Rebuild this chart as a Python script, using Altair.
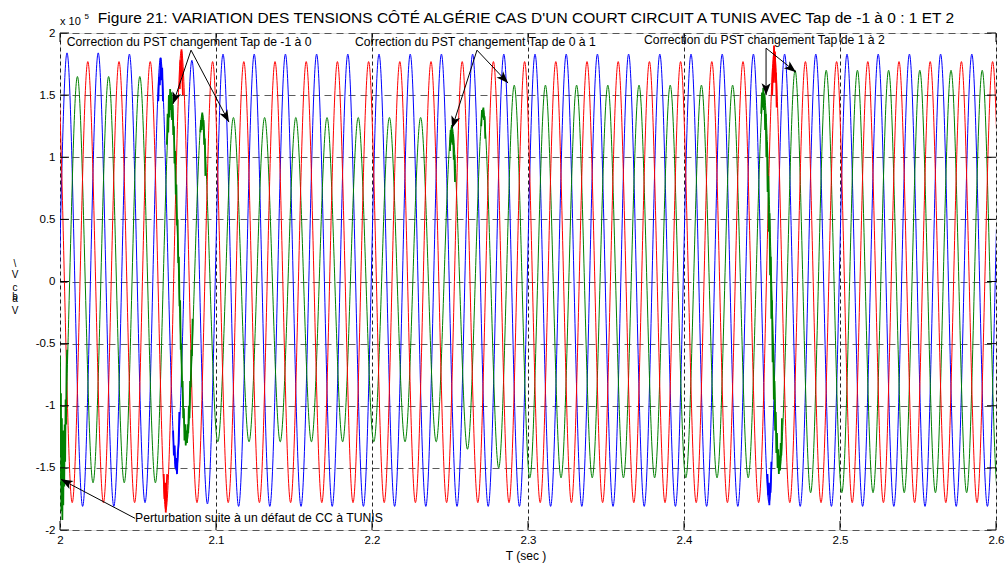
import math
import altair as alt
import pandas as pd

# ---------------- waveform data (time in s, voltage in units of 1e5 V) ----------------
PERIOD = 0.02                      # 50 Hz
BLUE_FIRST_PEAK = 1.9845
GREEN_FIRST_PEAK = 1.99117
RED_FIRST_PEAK = 1.99783

# positive / negative crest of every cycle, one entry per cycle
blue_pos = [1.83, 1.84, 1.84, 1.83, 1.80, 1.78, 1.83, 1.83, 1.83, 1.83,
            1.83, 1.83, 1.83, 1.83, 1.83, 1.83, 1.83, 1.83, 1.83, 1.83,
            1.83, 1.83, 1.83, 1.83, 1.83, 1.83, 1.83, 1.83, 1.83, 1.83,
            1.83, 1.83]
blue_neg = [-1.81, -1.81, -1.81, -1.78, -1.52, -1.79, -1.81, -1.81, -1.81, -1.81,
            -1.81, -1.81, -1.81, -1.81, -1.81, -1.81, -1.81, -1.81, -1.81, -1.81,
            -1.81, -1.81, -1.81, -1.78, -1.81, -1.81, -1.81, -1.81, -1.81, -1.81,
            -1.81, -1.81]
green_pos = [1.65, 1.65, 1.65, 1.65, 1.52, 1.35, 1.32, 1.32, 1.32, 1.32,
             1.32, 1.32, 1.32, 1.25, 1.39, 1.58, 1.58, 1.58, 1.58, 1.58,
             1.58, 1.58, 1.58, 1.52, 1.70, 1.70, 1.70, 1.70, 1.70, 1.70,
             1.70, 1.70]
green_neg = [-1.62, -1.62, -1.62, -1.62, -1.30, -1.29, -1.29, -1.29, -1.29, -1.29,
             -1.29, -1.29, -1.29, -1.35, -1.50, -1.58, -1.58, -1.58, -1.58, -1.58,
             -1.58, -1.58, -1.58, -1.52, -1.70, -1.70, -1.70, -1.70, -1.70, -1.70,
             -1.70, -1.70]
red_pos = [1.77, 1.77, 1.77, 1.77, 1.86, 1.77, 1.77, 1.77, 1.77, 1.77,
           1.77, 1.77, 1.77, 1.77, 1.77, 1.77, 1.77, 1.77, 1.77, 1.77,
           1.77, 1.77, 1.77, 1.85, 1.77, 1.77, 1.77, 1.77, 1.77, 1.77,
           1.77, 1.77]
red_neg = [-1.78, -1.78, -1.78, -1.84, -1.78, -1.78, -1.78, -1.78, -1.78, -1.78,
           -1.78, -1.78, -1.78, -1.78, -1.78, -1.78, -1.78, -1.78, -1.78, -1.78,
           -1.78, -1.78, -1.78, -1.78, -1.78, -1.78, -1.78, -1.78, -1.78, -1.78,
           -1.78, -1.78]

# disturbed stretches (fault and tap changes), sampled by hand
g_fault_t = [2.0000, 2.0003, 2.0006, 2.0009, 2.0012, 2.0015, 2.0018, 2.0021,
             2.0024, 2.0027, 2.0030, 2.0033, 2.0036, 2.0039, 2.0042, 2.0046]
g_fault_v = [-0.60, -1.40, -0.90, -1.85, -1.10, -1.92, -1.30, -1.80,
             -1.20, -1.65, -1.15, -1.45, -0.95, -1.15, -0.70, -0.55]
g_tap1_t = [2.0685, 2.0690, 2.0694, 2.0698, 2.0702, 2.0706, 2.0710, 2.0714,
            2.0718, 2.0722, 2.0726, 2.0730, 2.0734, 2.0738, 2.0742, 2.0746,
            2.0750, 2.0754, 2.0758, 2.0762, 2.0766, 2.0770, 2.0774, 2.0778,
            2.0782, 2.0786, 2.0790, 2.0794, 2.0798, 2.0802, 2.0806, 2.0810,
            2.0814, 2.0818, 2.0822, 2.0826, 2.0830, 2.0834, 2.0838, 2.0842,
            2.0846, 2.0850]
g_tap1_v = [1.10, 1.35, 1.20, 1.50, 1.32, 1.55, 1.38, 1.52,
            1.30, 1.42, 1.18, 1.25, 0.95, 1.05, 0.70, 0.78,
            0.45, 0.50, 0.15, 0.20, -0.20, -0.15, -0.55, -0.50,
            -0.85, -0.80, -1.10, -1.02, -1.28, -1.15, -1.32, -1.20,
            -1.30, -1.15, -1.22, -1.00, -1.10, -0.80, -0.85, -0.55,
            -0.60, -0.30]
g_tap1b_t = [2.0900, 2.0904, 2.0908, 2.0912, 2.0916, 2.0920, 2.0924, 2.0928, 2.0932]
g_tap1b_v = [1.20, 1.30, 1.22, 1.36, 1.25, 1.30, 1.10, 1.15, 0.85]
b_tap1_top_t = [2.0630, 2.0635, 2.0640, 2.0645, 2.0650, 2.0655, 2.0660]
b_tap1_top_v = [1.45, 1.65, 1.58, 1.80, 1.62, 1.72, 1.45]
b_tap1_bot_t = [2.0725, 2.0730, 2.0735, 2.0740, 2.0745, 2.0750, 2.0755, 2.0760, 2.0765]
b_tap1_bot_v = [-1.20, -1.40, -1.32, -1.50, -1.42, -1.55, -1.38, -1.30, -1.05]
r_tap1_bot_t = [2.0665, 2.0670, 2.0675, 2.0678, 2.0682, 2.0687]
r_tap1_bot_v = [-1.55, -1.75, -1.62, -1.86, -1.70, -1.55]
r_tap1_top_t = [2.0768, 2.0772, 2.0776, 2.0779, 2.0783, 2.0788]
r_tap1_top_v = [1.55, 1.78, 1.65, 1.87, 1.68, 1.50]
g_tap2a_t = [2.2500, 2.2504, 2.2508, 2.2512, 2.2516, 2.2520, 2.2524, 2.2528, 2.2532]
g_tap2a_v = [1.05, 1.22, 1.12, 1.26, 1.10, 1.18, 0.98, 1.02, 0.80]
g_tap2b_t = [2.2700, 2.2705, 2.2710, 2.2714, 2.2718, 2.2722, 2.2726]
g_tap2b_v = [1.25, 1.38, 1.32, 1.40, 1.30, 1.33, 1.15]
g_tap3_t = [2.4495, 2.4500, 2.4504, 2.4508, 2.4512, 2.4516, 2.4520, 2.4524,
            2.4528, 2.4532, 2.4536, 2.4540, 2.4544, 2.4548, 2.4552, 2.4556,
            2.4560, 2.4564, 2.4568, 2.4572, 2.4576, 2.4580, 2.4584, 2.4588,
            2.4592, 2.4596, 2.4600, 2.4604, 2.4608, 2.4612, 2.4616, 2.4620,
            2.4624, 2.4628]
g_tap3_v = [1.35, 1.52, 1.40, 1.56, 1.38, 1.50, 1.22, 1.35,
            1.00, 1.12, 0.72, 0.85, 0.40, 0.55, 0.05, 0.20,
            -0.30, -0.15, -0.65, -0.50, -0.95, -0.80, -1.20, -1.05,
            -1.38, -1.22, -1.50, -1.35, -1.55, -1.40, -1.52, -1.30,
            -1.40, -1.10]
r_tap3_t = [2.4565, 2.4570, 2.4574, 2.4577, 2.4580, 2.4583, 2.4587, 2.4590, 2.4594]
r_tap3_v = [1.50, 1.72, 1.60, 1.90, 1.66, 1.85, 1.60, 1.68, 1.40]
b_tap3_t = [2.4535, 2.4540, 2.4544, 2.4547, 2.4551, 2.4555, 2.4560]
b_tap3_v = [-1.55, -1.72, -1.62, -1.80, -1.66, -1.70, -1.45]

# axis ticks
x_ticks = [2.0, 2.1, 2.2, 2.3, 2.4, 2.5, 2.6]
y_ticks = [-2.0, -1.5, -1.0, -0.5, 0.0, 0.5, 1.0, 1.5, 2.0]

# annotations: text anchor and arrows (tail -> tip), in data units
notes_text = ["Correction du PST changement Tap de -1 à 0",
              "Correction du PST changement Tap de 0 à 1",
              "Correction du PST changement Tap de 1 à 2",
              "Perturbation suite à un défaut de CC à TUNIS"]
notes_t = [2.0043, 2.1891, 2.3744, 2.0481]
notes_v = [1.927, 1.927, 1.943, -1.906]
arrow_t0 = [2.0840, 2.0840, 2.2673, 2.2673, 2.4526, 2.4526, 2.0481]
arrow_v0 = [1.862, 1.862, 1.862, 1.862, 1.878, 1.878, -1.906]
arrow_t1 = [2.0724, 2.1083, 2.2513, 2.2872, 2.4526, 2.4718, 2.0006]
arrow_v1 = [1.428, 1.283, 1.234, 1.597, 1.500, 1.685, -1.592]

TITLE = ("Figure 21: VARIATION DES TENSIONS CÔTÉ ALGÉRIE CAS D'UN COURT CIRCUIT "
         "A TUNIS AVEC Tap de -1 à 0 : 1 ET 2")

# ---------------- build tables ----------------
W, H = 936, 497
X0, X1, Y0, Y1 = 2.0, 2.6, -2.0, 2.0
FONT = "Liberation Sans"


def wave(first_peak, pos, neg):
    rows = []
    q = PERIOD / 4
    for i, (a, b) in enumerate(zip(pos, neg)):
        tp = first_peak + i * PERIOD
        rows += [(tp - q, 0.0), (tp, a), (tp + q, 0.0), (tp + 2 * q, b)]
    rows.append((first_peak + (len(pos) - 1) * PERIOD + 3 * q, 0.0))
    return pd.DataFrame(rows, columns=["t", "v"])


blue_df = wave(BLUE_FIRST_PEAK, blue_pos, blue_neg)
green_df = wave(GREEN_FIRST_PEAK, green_pos, green_neg)
red_df = wave(RED_FIRST_PEAK, red_pos, red_neg)

segments = [("g", g_fault_t, g_fault_v), ("g", g_tap1_t, g_tap1_v),
            ("g", g_tap1b_t, g_tap1b_v), ("b", b_tap1_top_t, b_tap1_top_v),
            ("b", b_tap1_bot_t, b_tap1_bot_v), ("r", r_tap1_bot_t, r_tap1_bot_v),
            ("r", r_tap1_top_t, r_tap1_top_v), ("g", g_tap2a_t, g_tap2a_v),
            ("g", g_tap2b_t, g_tap2b_v), ("g", g_tap3_t, g_tap3_v),
            ("r", r_tap3_t, r_tap3_v), ("b", b_tap3_t, b_tap3_v)]
seg_rows = []
for k, (ph, ts, vs) in enumerate(segments):
    for t, v in zip(ts, vs):
        seg_rows.append({"seg": k, "phase": ph, "t": t, "v": v})
seg_df = pd.DataFrame(seg_rows)

xscale = alt.Scale(domain=[X0, X1], nice=False, zero=False)
yscale = alt.Scale(domain=[Y0, Y1], nice=False, zero=False)
x_axis = alt.Axis(values=x_ticks, labelExpr="datum.value + ''", ticks=False, domain=False,
                  grid=True, gridDash=[4, 3], gridColor="#000000", gridOpacity=0.85,
                  labelFont=FONT, labelFontSize=11.5, labelColor="#000000", labelPadding=4,
                  title=None, labelFlush=False)
y_axis = alt.Axis(values=y_ticks, labelExpr="datum.value + ''", ticks=False, domain=False,
                  grid=True, gridDash=[7, 5], gridColor="#333333", gridOpacity=0.8,
                  labelFont=FONT, labelFontSize=11.5, labelColor="#000000", labelPadding=5,
                  title=None, labelFlush=False)
X = alt.X("t:Q", scale=xscale, axis=x_axis)
Y = alt.Y("v:Q", scale=yscale, axis=y_axis)

phase_color = alt.Color("phase:N", scale=alt.Scale(domain=["b", "g", "r"],
                        range=["#0000ff", "#008000", "#ff0000"]), legend=None)


def base_line(df, color):
    return alt.Chart(df).mark_line(interpolate="natural", strokeWidth=1, color=color,
                                   clip=True).encode(x=X, y=Y)


blue_line = base_line(blue_df, "#0000ff")
green_line = base_line(green_df, "#008000")
red_line = base_line(red_df, "#ff0000")

noise = alt.Chart(seg_df).mark_line(strokeWidth=1.8, clip=True).encode(
    x=X, y=Y, color=phase_color, detail="seg:N")

# inward tick marks on all four sides
tick_x = 9 * (X1 - X0) / W
tick_y = 9 * (Y1 - Y0) / H
tick_rows = []
for xt in x_ticks:
    tick_rows.append({"t": xt, "v": Y0, "t2": xt, "v2": Y0 + tick_y})
    tick_rows.append({"t": xt, "v": Y1, "t2": xt, "v2": Y1 - tick_y})
for yt in y_ticks:
    tick_rows.append({"t": X0, "v": yt, "t2": X0 + tick_x, "v2": yt})
    tick_rows.append({"t": X1, "v": yt, "t2": X1 - tick_x, "v2": yt})
ticks = alt.Chart(pd.DataFrame(tick_rows)).mark_rule(color="#000000", strokeWidth=1).encode(
    x=X, y=Y, x2="t2:Q", y2="v2:Q")

# annotation texts and arrows
notes = alt.Chart(pd.DataFrame({"t": notes_t, "v": notes_v, "txt": notes_text})).mark_text(
    align="left", baseline="middle", font=FONT, fontSize=12.2, color="#000000").encode(
    x=X, y=Y, text="txt:N")

px_per_t = W / (X1 - X0)
px_per_v = H / (Y1 - Y0)
angles = []
for a, b, c, d in zip(arrow_t0, arrow_v0, arrow_t1, arrow_v1):
    dx = (c - a) * px_per_t
    dy = -(d - b) * px_per_v
    angles.append(math.degrees(math.atan2(dx, -dy)) % 360)
arrow_df = pd.DataFrame({"t": arrow_t0, "v": arrow_v0, "t2": arrow_t1, "v2": arrow_v1,
                         "ang": angles})
arrow_lines = alt.Chart(arrow_df).mark_rule(color="#000000", strokeWidth=1).encode(
    x=X, y=Y, x2="t2:Q", y2="v2:Q")
arrow_heads = alt.Chart(arrow_df).mark_point(
    shape="M0,0L0.75,2L0,1.5L-0.75,2Z", filled=True, color="#000000", opacity=1,
    size=144).encode(
    x=alt.X("t2:Q", scale=xscale, axis=x_axis),
    y=alt.Y("v2:Q", scale=yscale, axis=y_axis),
    angle=alt.Angle("ang:Q", scale=None))

# labels outside the plot area
one = pd.DataFrame({"k": [0]})


def label(text, x, y, size=11, align="center", baseline="alphabetic"):
    return alt.Chart(one).mark_text(text=text, font=FONT, fontSize=size, align=align,
                                    baseline=baseline, color="#000000").encode(
        x=alt.value(x), y=alt.value(y))


title = label(TITLE, 466, -10, size=15.5)
exp_base = label("x 10", 0, -8, size=11, align="left")
exp_pow = label("5", 24.5, -14, size=8, align="left")
x_title = label("T (sec )", 466, 523, size=12, baseline="middle")
y_title = alt.layer(
    label("\\", -45, 231, size=10, baseline="middle"),
    label("V", -45, 242, size=10, baseline="middle"),
    label("c", -45, 255, size=10, baseline="middle"),
    label("b", -45, 264, size=10, baseline="middle"),
    label("a", -45, 266, size=10, baseline="middle"),
    label("V", -45, 278, size=10, baseline="middle"),
)

chart = alt.layer(
    blue_line, green_line, red_line, noise, ticks, arrow_lines, arrow_heads, notes,
    title, exp_base, exp_pow, x_title, y_title,
).properties(
    width=W, height=H, autosize="none",
    padding={"left": 60, "top": 33, "right": 12, "bottom": 36},
).configure_view(
    stroke="#000000", strokeWidth=1
).configure(background="#ffffff")

chart.save("out.html", embed_options={"renderer": "svg", "actions": False})
